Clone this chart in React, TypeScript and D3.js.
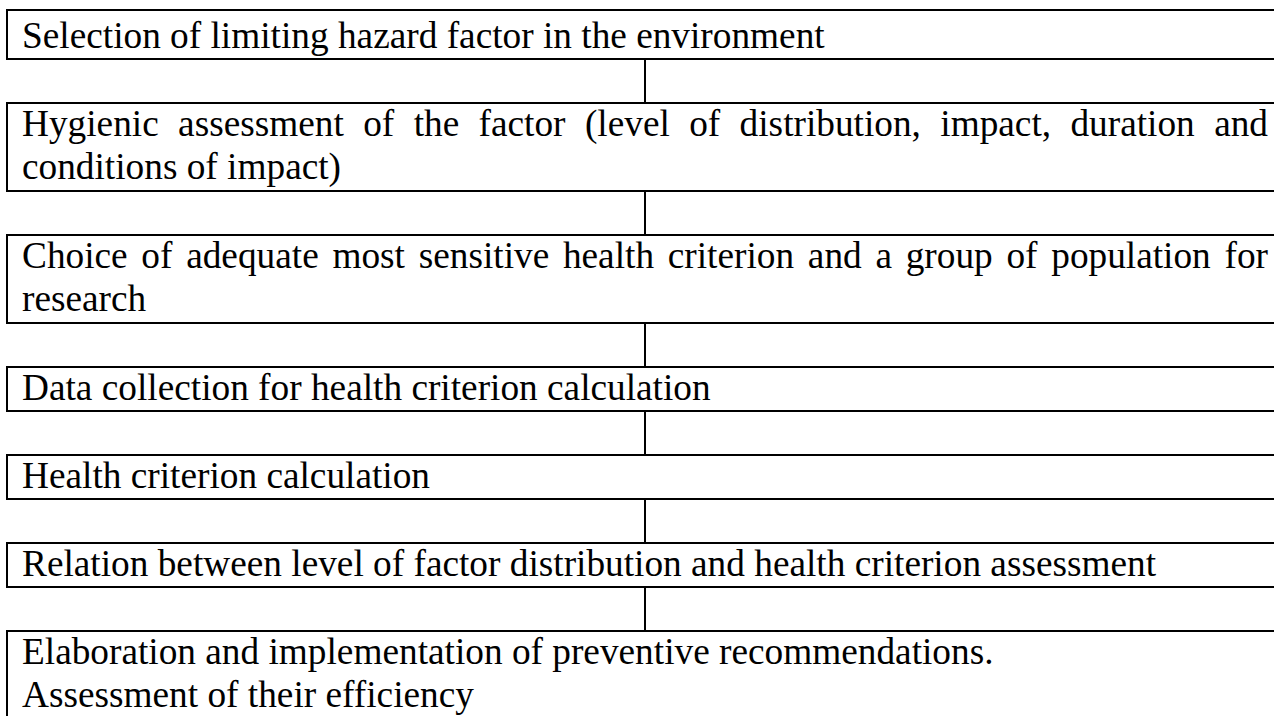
import React, { useEffect, useRef } from 'react'
import * as d3 from 'd3'

// each step is a list of lines as they wrap in the original figure
const stepLines: string[][] = [
  ['Selection of limiting hazard factor in the environment'],
  [
    'Hygienic assessment of the factor (level of distribution, impact, duration and',
    'conditions of impact)',
  ],
  [
    'Choice of adequate most sensitive health criterion and a group of population for',
    'research',
  ],
  ['Data collection for health criterion calculation'],
  ['Health criterion calculation'],
  ['Relation between level of factor distribution and health criterion assessment'],
  [
    'Elaboration and implementation of preventive recommendations.',
    'Assessment of their efficiency',
  ],
]

// steps whose first line is a soft wrap (justified to the right edge)
const justifiedSteps = [1, 2]

const W = 1274
const H = 716

export default function App() {
  const ref = useRef<SVGSVGElement>(null)

  useEffect(() => {
    const svg = d3.select(ref.current)
    svg.selectAll('*').remove()

    const boxLeft = 7
    const textLeft = 22
    const textRight = 1268
    const lineH = 44
    const gap = 44
    const firstTop = 15
    const linkX = 645
    const fontSize = '37.3px'
    const fontFamily = '"Liberation Serif", "Times New Roman", serif'

    const heights = stepLines.map((l) => l.length * lineH)
    const ends = Array.from(d3.cumsum(heights.map((h) => h + gap)))
    const tops = ends.map((e, i) => firstTop + e - heights[i] - gap)

    const g = svg.append('g')

    const addText = (x: number, y: number, s: string) =>
      g.append('text')
        .attr('x', x)
        .attr('y', y)
        .attr('font-family', fontFamily)
        .attr('font-size', fontSize)
        .attr('fill', 'black')
        .text(s)

    stepLines.forEach((lines, i) => {
      const top = i === 0 ? tops[i] - 5 : tops[i]
      const bottom = tops[i] + heights[i]

      g.append('rect')
        .attr('x', boxLeft)
        .attr('y', top)
        .attr('width', W + 20)
        .attr('height', bottom - top)
        .attr('fill', 'white')
        .attr('stroke', 'black')
        .attr('stroke-width', 2)

      lines.forEach((line, j) => {
        const baseline = tops[i] + 33 + j * 43
        const justify = justifiedSteps.includes(i) && j < lines.length - 1
        if (!justify) {
          addText(textLeft, baseline, line)
          return
        }
        // justify: spread the leftover room over the word gaps
        const words = line.split(' ')
        const widths = words.map((w) => {
          const t = addText(0, -100, w)
          const len = (t.node() as SVGTextElement).getComputedTextLength()
          t.remove()
          return len
        })
        const space = (textRight - textLeft - d3.sum(widths)) / (words.length - 1)
        let x = textLeft
        words.forEach((w, k) => {
          addText(x, baseline, w)
          x += widths[k] + space
        })
      })

      if (i < stepLines.length - 1) {
        g.append('line')
          .attr('x1', linkX)
          .attr('x2', linkX)
          .attr('y1', bottom)
          .attr('y2', tops[i + 1])
          .attr('stroke', 'black')
          .attr('stroke-width', 2)
      }
    })
  }, [])

  return (
    <div style={{ position: 'fixed', left: 0, top: 0, width: W, height: H, background: 'white' }}>
      <svg ref={ref} width={W} height={H} style={{ display: 'block' }} />
    </div>
  )
}
